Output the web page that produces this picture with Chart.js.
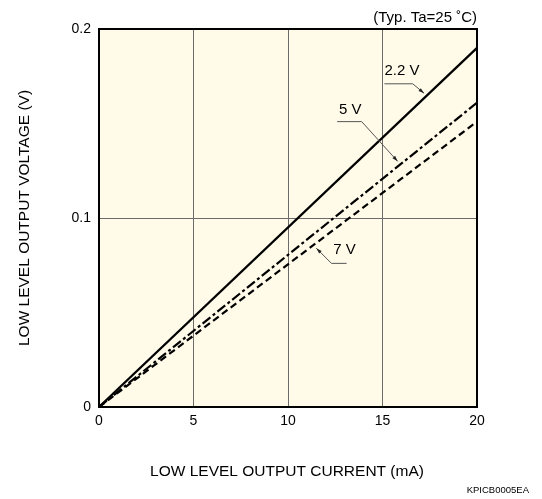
<!DOCTYPE html>
<html>
<head>
<meta charset="utf-8">
<script src="https://cdn.jsdelivr.net/npm/chart.js@4/dist/chart.umd.min.js"></script>
<style>
    html, body { margin: 0; padding: 0; background: #fff; }
    #wrap { width: 542px; height: 499px; position: relative; }
</style>
</head>
<body>
<div id="wrap"><canvas id="chart"></canvas></div>
<script>
// values (mA, V)
const currentMA = [0, 20];
const volt22 = [0, 0.19];
const volt5 = [0, 0.161];
const volt7 = [0, 0.151];

const xTicks = [0, 5, 10, 15, 20];
const yTicks = [0, 0.1, 0.2];

// curve labels: text anchor, leader line bend and tip (data units)
const curveLabels = [
    { text: '2.2 V', at: [15.1, 0.178], path: [[15.1, 0.171], [16.6, 0.171], [17.2, 0.166]] },
    { text: '5 V', at: [12.7, 0.157], path: [[12.6, 0.151], [13.9, 0.151], [15.8, 0.13]] },
    { text: '7 V', at: [12.4, 0.083], path: [[13.1, 0.076], [12.3, 0.076], [11.5, 0.084]] },
];

const FONT = '"Liberation Sans", Arial, sans-serif';

const toPts = (ys) => currentMA.map((x, i) => ({ x: x, y: ys[i] }));

const framePlugin = {
    id: 'frame',
    beforeDraw(chart) {
        const { ctx, chartArea: a } = chart;
        ctx.save();
        ctx.fillStyle = '#fffbe8';
        ctx.fillRect(a.left, a.top, a.right - a.left, a.bottom - a.top);
        ctx.restore();
    },
    afterDatasetsDraw(chart) {
        const { ctx, chartArea: a, scales } = chart;
        const xs = scales.x, ys = scales.y;
        ctx.save();
        ctx.strokeStyle = '#000';
        ctx.lineWidth = 2;
        ctx.strokeRect(a.left, a.top, a.right - a.left, a.bottom - a.top);

        // curve labels with leader lines
        ctx.font = '15px ' + FONT;
        ctx.fillStyle = '#000';
        ctx.textBaseline = 'middle';
        ctx.textAlign = 'left';
        curveLabels.forEach((l) => {
            ctx.fillText(l.text, xs.getPixelForValue(l.at[0]), ys.getPixelForValue(l.at[1]));
            const p = l.path.map((q) => [xs.getPixelForValue(q[0]), ys.getPixelForValue(q[1])]);
            ctx.strokeStyle = '#555';
            ctx.lineWidth = 1;
            ctx.beginPath();
            ctx.moveTo(p[0][0], p[0][1]);
            for (let i = 1; i < p.length; i++) ctx.lineTo(p[i][0], p[i][1]);
            ctx.stroke();
            // small arrow head
            const [x1, y1] = p[p.length - 2];
            const [x2, y2] = p[p.length - 1];
            const ang = Math.atan2(y2 - y1, x2 - x1);
            ctx.fillStyle = '#222';
            ctx.beginPath();
            ctx.moveTo(x2, y2);
            ctx.lineTo(x2 - 6 * Math.cos(ang - 0.3), y2 - 6 * Math.sin(ang - 0.3));
            ctx.lineTo(x2 - 6 * Math.cos(ang + 0.3), y2 - 6 * Math.sin(ang + 0.3));
            ctx.closePath();
            ctx.fill();
            ctx.fillStyle = '#000';
        });

        // titles and notes
        ctx.font = '15px ' + FONT;
        ctx.textAlign = 'right';
        ctx.textBaseline = 'alphabetic';
        ctx.fillText('(Typ. Ta=25 \u02DAC)', a.right, 22);

        ctx.font = '15.5px ' + FONT;
        ctx.textAlign = 'center';
        ctx.fillText('LOW LEVEL OUTPUT CURRENT (mA)', (a.left + a.right) / 2 - 1, 476);

        ctx.save();
        ctx.translate(25, (a.top + a.bottom) / 2);
        ctx.rotate(-Math.PI / 2);
        ctx.textBaseline = 'middle';
        ctx.fillText('LOW LEVEL OUTPUT VOLTAGE (V)', 0, 0);
        ctx.restore();

        ctx.font = '9.5px ' + FONT;
        ctx.textAlign = 'right';
        ctx.fillText('KPICB0005EA', 529, 493);
        ctx.restore();
    },
};

new Chart(document.getElementById('chart'), {
    type: 'scatter',
    data: {
        datasets: [
            {
                label: '2.2 V',
                data: toPts(volt22),
                showLine: true,
                borderColor: '#000',
                borderWidth: 2.2,
                pointRadius: 0,
            },
            {
                label: '5 V',
                data: toPts(volt5),
                showLine: true,
                borderColor: '#000',
                borderWidth: 2.2,
                borderDash: [10, 3, 3, 3],
                pointRadius: 0,
            },
            {
                label: '7 V',
                data: toPts(volt7),
                showLine: true,
                borderColor: '#000',
                borderWidth: 2.2,
                borderDash: [7, 4],
                pointRadius: 0,
            },
        ],
    },
    options: {
        responsive: true,
        maintainAspectRatio: false,
        animation: false,
        layout: { padding: { left: 0, top: 29, right: 65, bottom: 0 } },
        plugins: {
            legend: { display: false },
            tooltip: { enabled: false },
        },
        scales: {
            x: {
                type: 'linear',
                min: 0,
                max: 20,
                afterBuildTicks: (s) => { s.ticks = xTicks.map((v) => ({ value: v })); },
                afterFit: (s) => { s.height = 92; },
                ticks: {
                    color: '#000',
                    font: { family: FONT, size: 14 },
                    padding: 6,
                    maxRotation: 0,
                    callback: (v) => String(v),
                },
                grid: { color: '#6b6b6b', lineWidth: 1, drawTicks: false },
                border: { display: false },
            },
            y: {
                type: 'linear',
                min: 0,
                max: 0.2,
                afterBuildTicks: (s) => { s.ticks = yTicks.map((v) => ({ value: v })); },
                afterFit: (s) => { s.width = 99; },
                ticks: {
                    color: '#000',
                    font: { family: FONT, size: 14 },
                    padding: 8,
                    callback: (v) => (v === 0 ? '0' : String(v)),
                },
                grid: { color: '#6b6b6b', lineWidth: 1, drawTicks: false },
                border: { display: false },
            },
        },
    },
    plugins: [framePlugin],
});
</script>
</body>
</html>
